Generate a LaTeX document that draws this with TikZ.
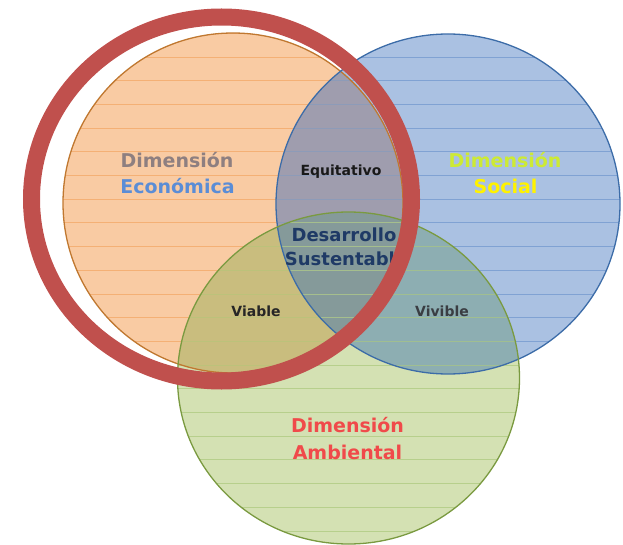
\documentclass[tikz,border=0pt]{standalone}
\usepackage{fontspec}
\setmainfont{DejaVu Sans}
\definecolor{ofill}{HTML}{F9CBA3}
\definecolor{ostripe}{HTML}{F3A866}
\definecolor{oline}{HTML}{C07830}
\definecolor{bfill}{HTML}{AAC1E2}
\definecolor{bstripe}{HTML}{7398CE}
\definecolor{bline}{HTML}{3C6CA8}
\definecolor{gfill}{HTML}{D4E1B3}
\definecolor{gstripe}{HTML}{AECA80}
\definecolor{gline}{HTML}{7A9A40}
\definecolor{obfill}{HTML}{9F9DAE}
\definecolor{ogfill}{HTML}{C9BD7E}
\definecolor{bgfill}{HTML}{8DAEB2}
\definecolor{obgfill}{HTML}{859A9A}
\definecolor{ring}{HTML}{C0504D}
\definecolor{econgray}{HTML}{8E7F80}
\definecolor{econblue}{HTML}{5B8DD6}
\definecolor{socgreen}{HTML}{CDEA34}
\definecolor{socyellow}{HTML}{FFF200}
\definecolor{navy}{HTML}{1F3A66}
\definecolor{ambred}{HTML}{F04A4A}
\begin{document}
\begin{tikzpicture}[x=1pt,y=-1pt,
  big/.style={font=\fontsize{19}{23}\selectfont\bfseries, align=center, inner sep=0pt},
  mid/.style={font=\fontsize{18}{22}\selectfont\bfseries, align=center, inner sep=0pt},
  small/.style={font=\fontsize{14}{17}\selectfont\bfseries, inner sep=0pt},
  stripe/.style={line width=0.9pt, opacity=0.75}]
\useasboundingbox (0,0) rectangle (623,545);
\def\pathO{(233,203) ellipse [x radius=170pt, y radius=170pt]}
\def\pathB{(448,204) ellipse [x radius=172pt, y radius=170pt]}
\def\pathG{(348.5,378) ellipse [x radius=171pt, y radius=166pt]}
% base fills
\fill[ofill] \pathO;
\fill[bfill] \pathB;
\fill[gfill] \pathG;
% overlaps
\begin{scope}\clip \pathO; \fill[obfill] \pathB; \end{scope}
\begin{scope}\clip \pathO; \fill[ogfill] \pathG; \end{scope}
\begin{scope}\clip \pathB; \fill[bgfill] \pathG; \end{scope}
\begin{scope}\clip \pathO; \clip \pathB; \fill[obgfill] \pathG; \end{scope}
% stripes
\begin{scope}\clip \pathO;
  \foreach \k in {-1,...,21} \draw[stripe, ostripe] (0,57+23.7*\k) -- (623,57+23.7*\k);
\end{scope}
\begin{scope}\clip \pathB;
  \foreach \k in {-1,...,21} \draw[stripe, bstripe] (0,57+23.7*\k) -- (623,57+23.7*\k);
\end{scope}
\begin{scope}\clip \pathG;
  \foreach \k in {-1,...,21} \draw[stripe, gstripe] (0,57+23.7*\k) -- (623,57+23.7*\k);
\end{scope}
% outlines
\draw[oline, line width=1.3pt] \pathO;
\draw[bline, line width=1.3pt] \pathB;
\draw[gline, line width=1.3pt] \pathG;
% texts
\node[big, text=econgray] (econ1) at (177,160) {Dimensión};
\node[big, text=econblue] (econ2) at (177.5,186) {Económica};
\node[big, text=socgreen] (soc1) at (505,160) {Dimensión};
\node[big, text=socyellow] (soc2) at (505.5,186) {Social};
\node[small, text=black!90] (equi) at (341,172) {Equitativo};
\node[mid, text=navy] (des1) at (344,235) {Desarrollo};
\node[mid, text=navy] (des2) at (346,259) {Sustentable};
\node[small, text=black!85] (viab) at (256,311) {Viable};
\node[small, text=black!85!cyan] (vivi) at (442,311) {Vivible};
\node[big, text=ambred] (amb1) at (347.5,425) {Dimensión};
\node[big, text=ambred] (amb2) at (347.5,452) {Ambiental};
% red ring
\draw[ring, line width=17pt] (221.5,199) ellipse [x radius=190pt, y radius=182pt];
\end{tikzpicture}
\end{document}
